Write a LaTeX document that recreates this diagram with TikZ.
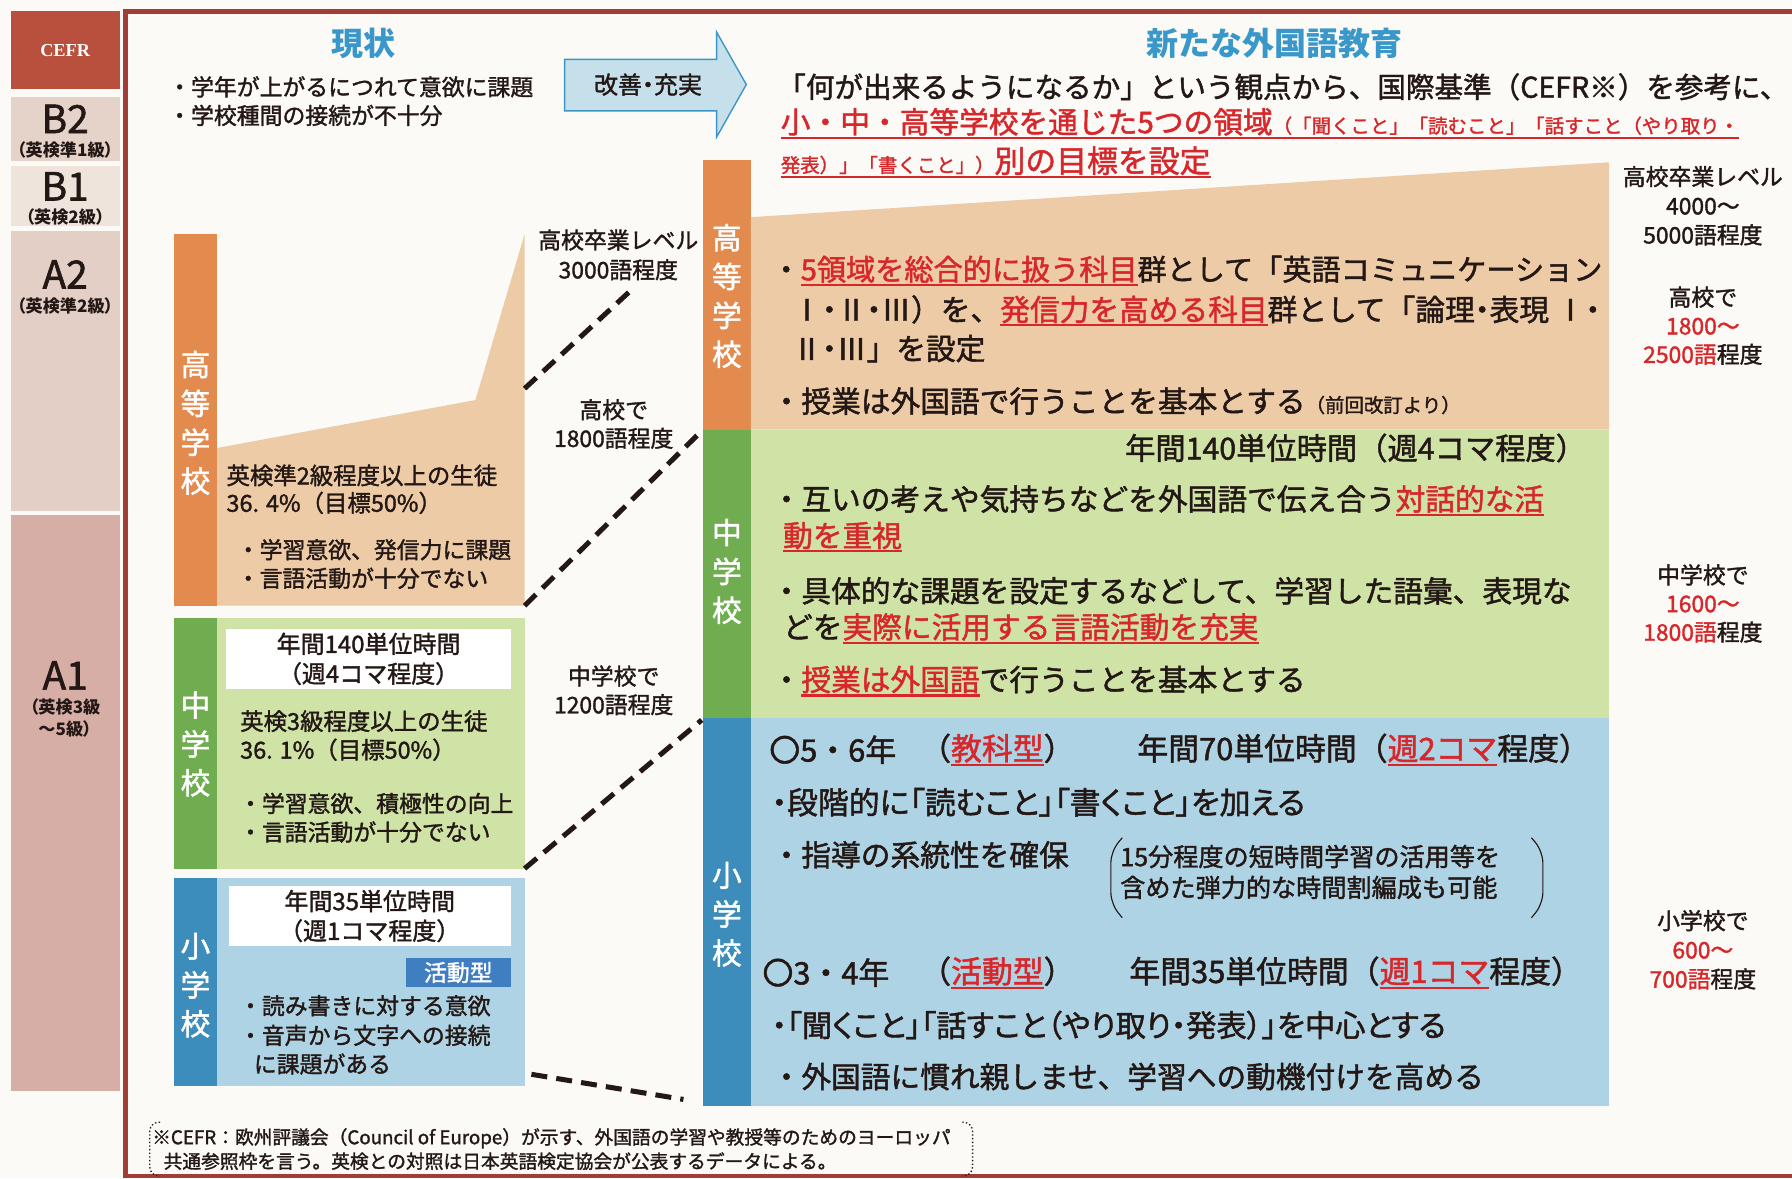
\documentclass[tikz,border=0pt]{standalone}
\usepackage{fontspec}
\setmainfont{Noto Sans CJK JP}[UprightFeatures={FakeBold=1.5}]
\newfontfamily\pf{Noto Sans CJK JP}[RawFeature=+palt, UprightFeatures={FakeBold=1.5}]
\newfontfamily\serifbf{Liberation Serif}
\definecolor{paper}{HTML}{FBFAF7}
\definecolor{ink}{HTML}{231815}
\definecolor{frame}{HTML}{A03E35}
\definecolor{cefr}{HTML}{B9503E}
\definecolor{lvB2}{HTML}{E5D3CA}
\definecolor{lvB1}{HTML}{EFE4DC}
\definecolor{lvA2}{HTML}{E3CFC6}
\definecolor{lvA1}{HTML}{D6AEA6}
\definecolor{hsbar}{HTML}{E38B4F}
\definecolor{hsfill}{HTML}{EDCBA6}
\definecolor{msbar}{HTML}{70AD50}
\definecolor{msfill}{HTML}{CFE3A6}
\definecolor{esbar}{HTML}{3C8DBB}
\definecolor{esfill}{HTML}{AED3E4}
\definecolor{jred}{HTML}{D7272B}
\definecolor{headblue}{HTML}{3A97C9}
\definecolor{arrfill}{HTML}{C5E0EA}
\definecolor{arrline}{HTML}{3D95C5}
\definecolor{katsu}{HTML}{3F7EC1}
\newcommand\setfs[1]{\fontsize{#1}{#1}\selectfont}
\newcommand\setfsb[2]{\fontsize{#1}{#2}\selectfont}
\newcommand\myul[1]{\setbox0=\hbox{#1}\rlap{\rule[-5pt]{\wd0}{1.8pt}}\box0}
\newcommand\rd[1]{\textcolor{jred}{\myul{#1}}}
\newcommand\pd{{\pf ・}}
\begin{document}
\begin{tikzpicture}[x=1pt,y=-1pt,
  txt/.style={inner sep=0, anchor=west, text=ink},
  ctxt/.style={inner sep=0, anchor=center, text=ink, align=center},
  vlab/.style={inner sep=0, anchor=center, text=white, align=center, font=\setfsb{26}{34}},
  lvl/.style={inner sep=0, anchor=center, text=ink, font=\setfs{34}},
  lvs/.style={inner sep=0, anchor=center, text=ink, font=\pf\bfseries\setfs{15}, align=center},
  dash line/.style={line width=4.4pt, dash pattern=on 14pt off 8pt, draw=ink},
  wbox/.style={fill=white, inner sep=0, align=center, text=ink, font=\setfsb{21}{26}},
  head/.style={inner sep=0, anchor=center, text=headblue, font=\bfseries\setfs{28}},
  paren/.style={draw=ink, line width=1pt, rounded corners=10pt}
]
\useasboundingbox (0,0) rectangle (1568,1031);
\fill[paper] (0,0) rectangle (1568,1031);

% ---- CEFR column ----
\fill[cefr] (10,10) rectangle (105,78);
\fill[lvB2] (10,85) rectangle (105,141);
\fill[lvB1] (10,145) rectangle (105,198);
\fill[lvA2] (10,202) rectangle (105,447);
\fill[lvA1] (10,451) rectangle (105,955);
\node[inner sep=0, text=white, font=\serifbf\bfseries\setfs{16}] (cefrlab) at (57,44) {CEFR};
\node[lvl] (b2) at (57,104) {B2};
\node[lvs] (b2s) at (57,131) {（英検準1級）};
\node[lvl] (b1) at (57,163) {B1};
\node[lvs] (b1s) at (57,190) {（英検2級）};
\node[lvl] (a2) at (57,240) {A2};
\node[lvs] (a2s) at (57,268) {（英検準2級）};
\node[lvl] (a1) at (57,591) {A1};
\node[lvs, font=\pf\bfseries\setfsb{15}{19}] (a1s) at (57,628) {（英検3級\\～5級）};

% ---- frame ----
\draw[frame, line width=4pt] (1580,10) -- (110,10) -- (110,1029) -- (1580,1029);

% ---- headings & intro ----
\node[head] (h-now) at (318,38) {現状};
\node[head] (h-new) at (1115,38) {新たな外国語教育};
\node[txt, font=\setfs{20}] (now1) at (147,76) {・学年が上がるにつれて意欲に課題};
\node[txt, font=\setfs{20}] (now2) at (147,101) {・学校種間の接続が不十分};

\draw[arrline, fill=arrfill, line width=1.2pt] (494,52) -- (627,52) -- (627,28) -- (653,74) -- (627,120) -- (627,97) -- (494,97) -- cycle;
\node[ctxt, font=\pf\setfs{21}] (kaizen) at (567,74) {改善・充実};

\node[txt, font=\setfs{25}] (l1) at (680,76) {「何が出来るようになるか」という観点から、国際基準（CEFR※）を参考に、};
\node[txt, text=jred] (l2) at (683,108) {\myul{\setfs{26}小・中・高等学校を通じた5つの領域{\setfs{17}（「聞くこと」「読むこと」「話すこと（やり取り・}}};
\node[txt, text=jred] (l3) at (683,142) {\myul{{\setfs{17}発表）」「書くこと」）}\setfs{27}別の目標を設定}};

% ---- left (current) ----
\fill[hsbar] (152,205) rectangle (190,530);
\fill[hsfill] (190,392) -- (416,350) -- (459,205) -- (459,530) -- (190,530) -- cycle;
\node[vlab] (lhs) at (171,370) {高\\等\\学\\校};
\node[txt, font=\setfs{20.5}] (lhs1) at (198,416) {英検準2級程度以上の生徒};
\node[txt, font=\setfs{20.5}] (lhs2) at (198,440) {36. 4\%（目標50\%）};
\node[txt, font=\setfs{20}] (lhs3) at (207,481) {・学習意欲、発信力に課題};
\node[txt, font=\setfs{20}] (lhs4) at (207,506) {・言語活動が十分でない};

\fill[msbar] (152,541) rectangle (190,760);
\fill[msfill] (190,541) rectangle (459,760);
\node[vlab] (lms) at (171,651) {中\\学\\校};
\node[wbox, minimum width=249pt, minimum height=53pt] (lmsw) at (322.5,576.5) {年間140単位時間\\（週4コマ程度）};
\node[txt, font=\setfs{20.5}] (lms1) at (210,631) {英検3級程度以上の生徒};
\node[txt, font=\setfs{20.5}] (lms2) at (210,656) {36. 1\%（目標50\%）};
\node[txt, font=\setfs{20}] (lms3) at (209,703) {・学習意欲、積極性の向上};
\node[txt, font=\setfs{20}] (lms4) at (209,728) {・言語活動が十分でない};

\fill[esbar] (152,768) rectangle (190,950);
\fill[esfill] (190,768) rectangle (459,950);
\node[vlab] (les) at (171,862) {小\\学\\校};
\node[wbox, minimum width=247pt, minimum height=53pt] (lesw) at (323.5,801.5) {年間35単位時間\\（週1コマ程度）};
\node[fill=katsu, text=white, inner sep=0, minimum width=92pt, minimum height=26pt, font=\setfs{20}] (katsu) at (401,851) {活動型};
\node[txt, font=\setfs{20}] (les1) at (209,880) {・読み書きに対する意欲};
\node[txt, font=\setfs{20}] (les2) at (209,906) {・音声から文字への接続};
\node[txt, font=\setfs{20}] (les3) at (222,931) {に課題がある};

% ---- middle vocabulary labels ----
\node[ctxt, font=\setfsb{20}{26}] (c1) at (541,223) {高校卒業レベル\\3000語程度};
\node[ctxt, font=\setfsb{20}{25}] (c2) at (537,371) {高校で\\1800語程度};
\node[ctxt, font=\setfsb{20}{25}] (c3) at (537,604) {中学校で\\1200語程度};

% ---- right (new) ----
\fill[hsbar] (615,140) rectangle (657,376);
\fill[hsfill] (657,190) -- (1408,142) -- (1408,376) -- (657,376) -- cycle;
\node[vlab] (rhs) at (636,259) {高\\等\\学\\校};
\fill[msbar] (615,376) rectangle (657,628);
\fill[msfill] (657,376) rectangle (1408,628);
\node[vlab] (rms) at (636,500) {中\\学\\校};
\fill[esbar] (615,628) rectangle (657,968);
\fill[esfill] (657,628) rectangle (1408,968);
\node[vlab] (res) at (636,800) {小\\学\\校};

\node[txt, font=\setfs{25.5}] (h1) at (675,237) {・\rd{5領域を総合的に扱う科目}群として「英語コミュニケーション};
\node[txt, font=\setfs{26}] (h2) at (693,272) {Ⅰ\pd Ⅱ\pd Ⅲ）を、\rd{発信力を高める科目}群として「論理\pd 表現 Ⅰ\pd};
\node[txt, font=\setfs{26}] (h3) at (693,305) {Ⅱ\pd Ⅲ」を設定};
\node[txt, font=\setfs{26}] (h4) at (675,351) {・授業は外国語で行うことを基本とする{\setfs{17}（前回改訂より）}};

\node[inner sep=0, anchor=east, text=ink, font=\setfs{26.5}] (m0) at (1388,392) {年間140単位時間（週4コマ程度）};
\node[txt, font=\setfs{26}] (m1) at (675,438) {・互いの考えや気持ちなどを外国語で伝え合う\rd{対話的な活}};
\node[txt, font=\setfs{26}] (m2) at (685,470) {\rd{動を重視}};
\node[txt, font=\setfs{26}] (m3) at (675,517) {・具体的な課題を設定するなどして、学習した語彙、表現な};
\node[txt, font=\setfs{26}] (m4) at (685,550) {どを\rd{実際に活用する言語活動を充実}};
\node[txt, font=\setfs{26}] (m5) at (675,596) {・\rd{授業は外国語}で行うことを基本とする};

\node[txt, font=\setfs{27}] (e1a) at (673,656) {〇5・6年};
\node[txt, font=\setfs{27}] (e1b) at (805,656) {（\rd{教科型}）};
\node[txt, font=\setfs{27}] (e1c) at (995,656) {年間70単位時間（\rd{週2コマ}程度）};
\node[txt, font=\pf\setfs{27}] (e2) at (675,702) {・段階的に「読むこと」「書くこと」を加える};
\node[txt, font=\setfs{26}] (e3) at (675,748) {・指導の系統性を確保};
\node[txt, font=\setfsb{22}{27}, align=left] (e4) at (980,763) {15分程度の短時間学習の活用等を\\含めた弾力的な時間割編成も可能};
\draw[paren] (982,733) -- (972,745) -- (972,791) -- (982,803);
\draw[paren] (1340,733) -- (1350,745) -- (1350,791) -- (1340,803);
\node[txt, font=\setfs{27}] (e6a) at (667,851) {〇3・4年};
\node[txt, font=\setfs{27}] (e6b) at (805,851) {（\rd{活動型}）};
\node[txt, font=\setfs{27}] (e6c) at (988,851) {年間35単位時間（\rd{週1コマ}程度）};
\node[txt, font=\pf\setfs{26.5}] (e7) at (675,897) {・「聞くこと」「話すこと（やり取り・発表）」を中心とする};
\node[txt, font=\setfs{26}] (e8) at (675,942) {・外国語に慣れ親しませ、学習への動機付けを高める};

% ---- right vocabulary column ----
\node[ctxt, font=\setfsb{20}{25.5}] (r1) at (1490,180) {高校卒業レベル\\4000～\\5000語程度};
\node[ctxt, font=\setfsb{20}{25}] (r2) at (1490,285) {高校で\\\textcolor{jred}{1800～}\\\textcolor{jred}{2500語}程度};
\node[ctxt, font=\setfsb{20}{25}] (r3) at (1490,528) {中学校で\\\textcolor{jred}{1600～}\\\textcolor{jred}{1800語}程度};
\node[ctxt, font=\setfsb{20}{25.5}] (r4) at (1490,831) {小学校で\\\textcolor{jred}{600～}\\\textcolor{jred}{700語}程度};

% ---- dashed connectors ----
\coordinate (d1a) at (459,340); \coordinate (d1b) at (551,255);
\coordinate (d2a) at (459,530); \coordinate (d2b) at (614,377);
\coordinate (d3a) at (459,760); \coordinate (d3b) at (614,630);
\coordinate (d4a) at (465,940); \coordinate (d4b) at (598,962);
\draw[dash line] (d1a) -- (d1b);
\draw[dash line] (d2a) -- (d2b);
\draw[dash line] (d3a) -- (d3b);
\draw[dash line] (d4a) -- (d4b);

% ---- footnote ----
\draw[ink, line width=1.2pt, dotted, rounded corners=8pt] (140,982) -- (131,982) -- (131,1029) -- (140,1029);
\draw[ink, line width=1.2pt, dotted, rounded corners=8pt] (842,982) -- (851,982) -- (851,1029) -- (842,1029);
\node[txt, font=\setfs{16.4}] (fn1) at (133,996) {※CEFR：欧州評議会（Council of Europe）が示す、外国語の学習や教授等のためのヨーロッパ};
\node[txt, font=\setfs{16.4}] (fn2) at (143,1016) {共通参照枠を言う。英検との対照は日本英語検定協会が公表するデータによる。};
\end{tikzpicture}
\end{document}
